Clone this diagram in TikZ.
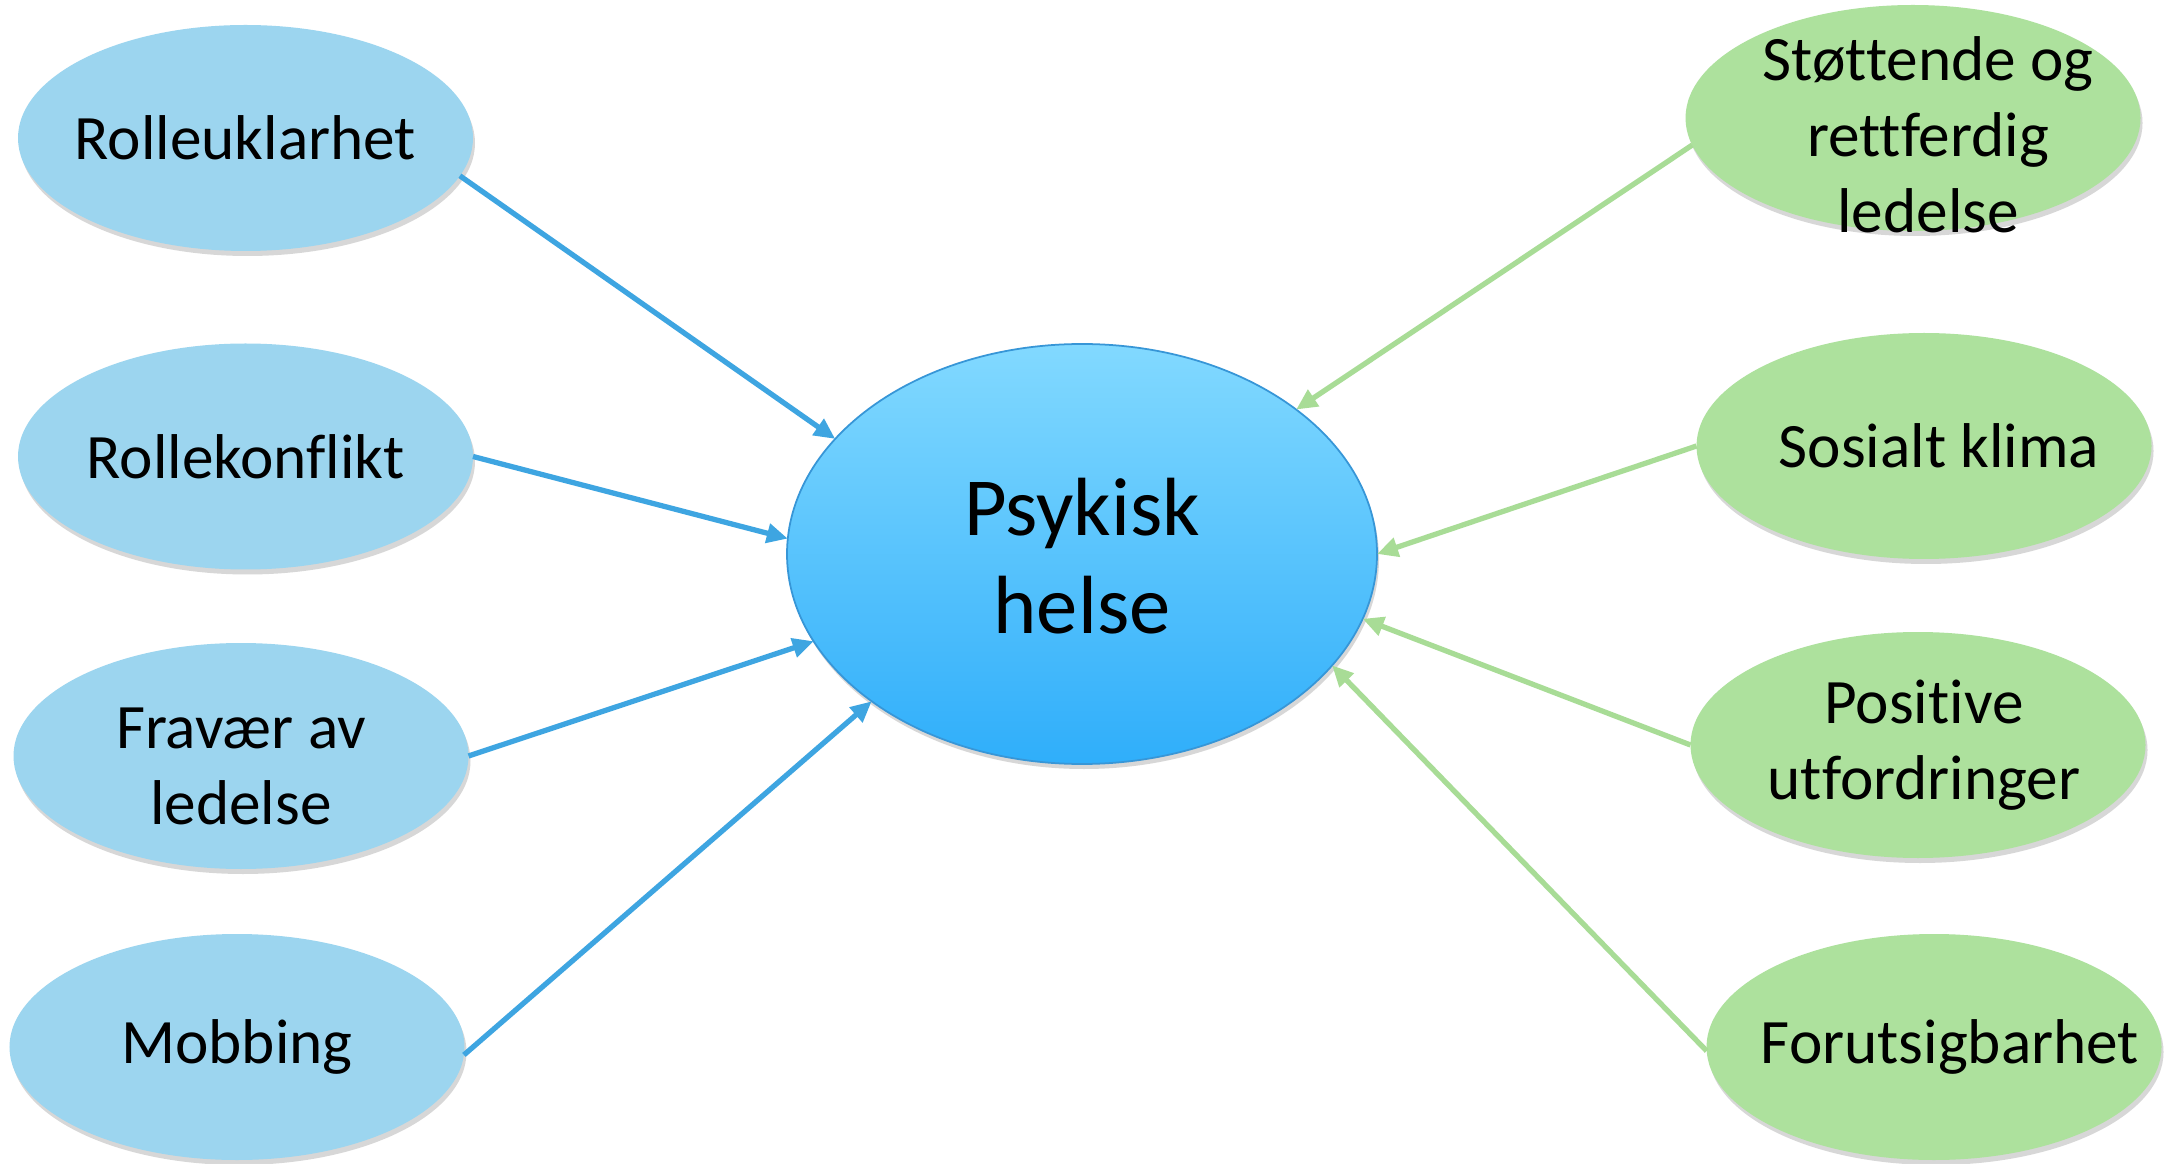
\documentclass[tikz,border=0pt]{standalone}
\usepackage{fontspec}
\setmainfont{Carlito}[Ligatures={NoCommon}]
\usetikzlibrary{shapes.geometric,arrows.meta,shadows}
\definecolor{lblue}{RGB}{156,213,239}
\definecolor{lgreen}{RGB}{173,225,157}
\definecolor{ablue}{RGB}{62,165,225}
\definecolor{agreen}{RGB}{168,220,150}
\definecolor{ctop}{RGB}{130,217,255}
\definecolor{cbot}{RGB}{47,174,250}
\definecolor{cedge}{RGB}{55,150,215}
\begin{document}
\begin{tikzpicture}[
  small/.style={ellipse, minimum width=4.55cm, minimum height=2.26cm, inner sep=0pt, outer sep=0pt,
    drop shadow={shadow xshift=0.02cm, shadow yshift=-0.05cm, opacity=0.22, fill=black!70}},
  bluebox/.style={small, fill=lblue},
  greenbox/.style={small, fill=lgreen},
  txt/.style={font=\fontsize{18}{21.6}\selectfont, align=center, inner sep=0pt},
  bigtxt/.style={font=\fontsize{23.5}{28}\selectfont, align=center, inner sep=0pt},
  barrow/.style={draw=ablue, line width=1.5pt, -{Triangle[length=0.21cm,width=0.19cm]}},
  garrow/.style={draw=agreen, line width=1.5pt, -{Triangle[length=0.21cm,width=0.19cm]}}
]
\fill[white] (0,0) rectangle (21.69,11.63);
\useasboundingbox (0,0) rectangle (21.69,11.63);

% centre
\node[ellipse, minimum width=5.90cm, minimum height=4.20cm, inner sep=0pt, outer sep=0pt,
      top color=ctop, bottom color=cbot, draw=cedge, line width=0.5pt,
      drop shadow={shadow xshift=0.02cm, shadow yshift=-0.05cm, opacity=0.22, fill=black!70}]
      (c) at (10.82,6.09) {};
\node[bigtxt] (ct) at ([yshift=-0.02cm]c.center) {Psykisk\\helse};

% left
\node[bluebox] (l1) at (2.455,10.25) {};
\node[txt] (l1t) at (l1.center) {Rolleuklarhet};
\node[bluebox] (l2) at (2.455,7.065) {};
\node[txt] (l2t) at (l2.center) {Rollekonflikt};
\node[bluebox] (l3) at (2.41,4.07) {};
\node[txt] (l3t) at ([yshift=-0.1cm]l3.center) {Fravær av\\ledelse};
\node[bluebox] (l4) at (2.37,1.16) {};
\node[txt] (l4t) at (l4.center) {Mobbing};

% right
\node[greenbox] (r1) at (19.13,10.45) {};
\node[txt] (r1t) at ([xshift=0.15cm,yshift=-0.17cm]r1.center) {Støttende og\\rettferdig\\ledelse};
\node[greenbox] (r2) at (19.24,7.17) {};
\node[txt] (r2t) at ([xshift=0.15cm]r2.center) {Sosialt klima};
\node[greenbox] (r3) at (19.18,4.18) {};
\node[txt] (r3t) at ([xshift=0.06cm]r3.center) {Positive\\utfordringer};
\node[greenbox] (r4) at (19.34,1.16) {};
\node[txt] (r4t) at ([xshift=0.16cm]r4.center) {Forutsigbarhet};

% arrows
\draw[barrow] (l1.-10) -- (c.155.8);
\draw[barrow] (l2.0) -- (c.177);
\draw[barrow] (l3.0) -- (c.198);
\draw[barrow] (l4.-2) -- (c.215.8);
\draw[garrow] (r1.187) -- (c.34.8);
\draw[garrow] (r2.180) -- (c.0);
\draw[garrow] (r3.180) -- (c.-13.8);
\draw[garrow] (r4.181) -- (c.-24.5);
\end{tikzpicture}
\end{document}
